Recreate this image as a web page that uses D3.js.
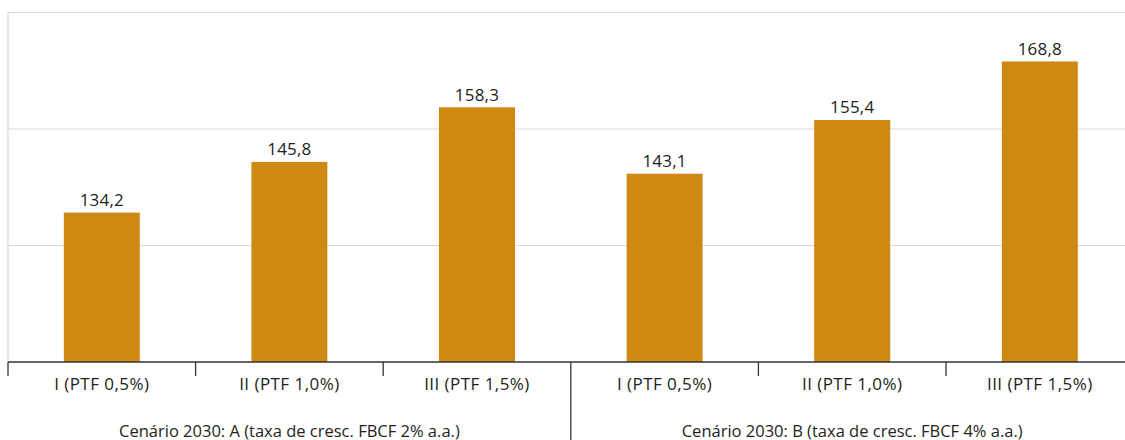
<!DOCTYPE html>
<html lang="pt">
<head>
<meta charset="utf-8">
<script src="https://cdn.jsdelivr.net/npm/d3@7"></script>
<style>
  html, body { margin: 0; padding: 0; background: #fff; }
  svg { display: block; }
  text { font-family: "Open Sans", "Noto Sans", sans-serif; fill: #231f20; }
</style>
</head>
<body>
<svg id="chart" width="1125" height="440"></svg>
<script>
// Scenario groups and the three productivity (PTF) cases within each
const scenarios = [
  "Cenário 2030: A (taxa de cresc. FBCF 2% a.a.)",
  "Cenário 2030: B (taxa de cresc. FBCF 4% a.a.)"
];
const cases = ["I (PTF 0,5%)", "II (PTF 1,0%)", "III (PTF 1,5%)"];

// Index values, in scenario order then case order
const valuesA = [134.2, 145.8, 158.3];
const valuesB = [143.1, 155.4, 168.8];

// Value axis: the plotted range and the number of gridline intervals
const yDomain = [100, 180];
const gridIntervals = 3;

const rows = [
  ...cases.map((c, i) => ({ key: "A" + i, group: 0, label: c, value: valuesA[i] })),
  ...cases.map((c, i) => ({ key: "B" + i, group: 1, label: c, value: valuesB[i] }))
];

const svg = d3.select("#chart");
const plotLeft = 8, step = 187.6;
const plotRight = plotLeft + step * rows.length;
const plotTop = 12.5, plotBase = 362;

const x = d3.scaleBand()
  .domain(rows.map(d => d.key))
  .range([plotLeft, plotRight])
  .paddingInner(0.595)
  .paddingOuter(0.2975);

const y = d3.scaleLinear().domain(yDomain).range([plotBase, plotTop]);

// Horizontal gridlines
const gridVals = d3.range(gridIntervals + 1).map(i => yDomain[0] + (yDomain[1] - yDomain[0]) * i / gridIntervals);
svg.append("g")
  .selectAll("line")
  .data(gridVals.slice(1))
  .join("line")
  .attr("x1", plotLeft).attr("x2", 1125)
  .attr("y1", d => y(d)).attr("y2", d => y(d))
  .attr("stroke", "#d9d9d9").attr("stroke-width", 1.2);

// Left frame edge
svg.append("line")
  .attr("x1", plotLeft).attr("x2", plotLeft)
  .attr("y1", y(yDomain[1])).attr("y2", plotBase)
  .attr("stroke", "#d9d9d9").attr("stroke-width", 1.2);

// Bars
svg.append("g")
  .selectAll("rect")
  .data(rows)
  .join("rect")
  .attr("x", d => x(d.key))
  .attr("width", x.bandwidth())
  .attr("y", d => y(d.value))
  .attr("height", d => plotBase - y(d.value))
  .attr("fill", "#cf8912");

// Value labels
const fmt = v => d3.format(".1f")(v).replace(".", ",");
svg.append("g")
  .selectAll("text")
  .data(rows)
  .join("text")
  .attr("x", d => x(d.key) + x.bandwidth() / 2)
  .attr("y", d => y(d.value) - 6.5)
  .attr("text-anchor", "middle")
  .attr("font-size", 17)
  .attr("letter-spacing", 0.2)
  .text(d => fmt(d.value));

// Category axis
const xAxis = svg.append("g");
xAxis.append("line")
  .attr("x1", plotLeft).attr("x2", 1125)
  .attr("y1", plotBase).attr("y2", plotBase)
  .attr("stroke", "#333").attr("stroke-width", 1.5);

const boundaries = d3.range(rows.length + 1).map(i => plotLeft + x.step() * i);
xAxis.selectAll("line.tick")
  .data(boundaries)
  .join("line")
  .attr("class", "tick")
  .attr("x1", d => d).attr("x2", d => d)
  .attr("y1", plotBase)
  .attr("y2", (d, i) => (i % cases.length === 0 && i > 0 && i < rows.length) ? 440 : plotBase + 14)
  .attr("stroke", "#333").attr("stroke-width", 1.3);

xAxis.selectAll("text.cat")
  .data(rows)
  .join("text")
  .attr("class", "cat")
  .attr("x", d => x(d.key) + x.bandwidth() / 2)
  .attr("y", 390)
  .attr("text-anchor", "middle")
  .attr("font-size", 17)
  .attr("letter-spacing", 0.45)
  .text(d => d.label);

xAxis.selectAll("text.grp")
  .data(scenarios)
  .join("text")
  .attr("class", "grp")
  .attr("x", (d, i) => plotLeft + x.step() * cases.length * (i + 0.5))
  .attr("y", 436.5)
  .attr("text-anchor", "middle")
  .attr("font-size", 16.5)
  .text(d => d);
</script>
</body>
</html>
